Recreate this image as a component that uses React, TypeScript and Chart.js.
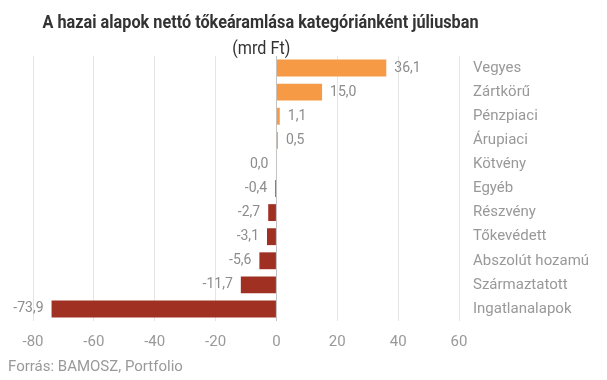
import React, { useEffect, useRef } from 'react';
import { Chart, registerables } from 'chart.js';

Chart.register(...registerables);

const categories = [
  'Vegyes',
  'Zártkörű',
  'Pénzpiaci',
  'Árupiaci',
  'Kötvény',
  'Egyéb',
  'Részvény',
  'Tőkevédett',
  'Abszolút hozamú',
  'Származtatott',
  'Ingatlanalapok',
];
const values = [36.1, 15.0, 1.1, 0.5, 0.0, -0.4, -2.7, -3.1, -5.6, -11.7, -73.9];
const xTicks = [-80, -60, -40, -20, 0, 20, 40, 60];
const titleText = 'A hazai alapok nettó tőkeáramlása kategóriánként júliusban';
const subtitleText = '(mrd Ft)';
const sourceText = 'Forrás: BAMOSZ, Portfolio';
const positiveColor = '#F79A45';
const negativeColor = '#A03022';

const fmt = (v: number) => v.toFixed(1).replace('.', ',');

const valueLabels = {
  id: 'valueLabels',
  afterDatasetsDraw(chart: any) {
    const ctx = chart.ctx;
    const meta = chart.getDatasetMeta(0);
    ctx.save();
    ctx.font = '14px Roboto';
    ctx.fillStyle = '#8c8c8c';
    ctx.textBaseline = 'middle';
    meta.data.forEach((bar: any, i: number) => {
      const v = values[i];
      const text = fmt(v);
      if (v > 0) {
        ctx.textAlign = 'left';
        ctx.fillText(text, bar.x + 8, bar.y);
      } else {
        ctx.textAlign = 'right';
        ctx.fillText(text, bar.x - 8, bar.y);
      }
    });
    ctx.restore();
  },
};

export default function App() {
  const canvasRef = useRef<HTMLCanvasElement | null>(null);
  const titleRef = useRef<HTMLSpanElement | null>(null);
  const subRef = useRef<HTMLSpanElement | null>(null);

  useEffect(() => {
    const fit = (el: HTMLSpanElement | null, target: number) => {
      if (!el) return;
      el.style.transform = 'none';
      const w = el.getBoundingClientRect().width;
      if (w > 0) el.style.transform = `scaleX(${target / w})`;
    };
    fit(titleRef.current, 436);
    fit(subRef.current, 58);

    const canvas = canvasRef.current;
    if (!canvas) return;
    const chart = new Chart(canvas, {
      type: 'bar',
      data: {
        labels: categories,
        datasets: [
          {
            data: values,
            backgroundColor: values.map((v) => (v >= 0 ? positiveColor : negativeColor)),
            borderWidth: 0,
            barPercentage: 0.7,
            categoryPercentage: 1.0,
          },
        ],
      },
      options: {
        indexAxis: 'y',
        responsive: false,
        animation: false,
        layout: { padding: { left: 33, right: 0, top: 56, bottom: 29 } },
        plugins: {
          legend: { display: false },
          title: { display: false },
          tooltip: { enabled: false },
        },
        scales: {
          x: {
            min: -80,
            max: 60,
            afterBuildTicks: (s: any) => {
              s.ticks = xTicks.map((v) => ({ value: v }));
            },
            afterFit: (s: any) => {
              s.height = 30;
            },
            ticks: {
              color: '#999999',
              font: { family: 'Roboto', size: 15 },
              padding: 12,
              maxRotation: 0,
            },
            grid: {
              color: (c: any) => (c.tick && c.tick.value === 0 ? '#c4c4c4' : '#e4e4e4'),
              drawTicks: false,
              lineWidth: 1,
            },
            border: { display: false },
          },
          y: {
            position: 'right',
            grid: { display: false, drawTicks: false },
            border: { display: false },
            ticks: {
              color: '#999999',
              font: { family: 'Roboto', size: 15 },
              padding: 14,
            },
            afterFit: (s: any) => {
              s.width = 148;
            },
          },
        },
      } as any,
      plugins: [valueLabels],
    });
    return () => chart.destroy();
  }, []);

  return (
    <div style={{ position: 'absolute', left: 0, top: 0, width: 607, height: 380, background: '#fff', overflow: 'hidden' }}>
      <canvas
        ref={canvasRef}
        width={607}
        height={380}
        style={{ position: 'absolute', left: 0, top: 0, width: 607, height: 380, display: 'block' }}
      />
      <div
        style={{
          position: 'absolute',
          left: 0,
          top: 13,
          width: 521,
          textAlign: 'center',
          whiteSpace: 'nowrap',
          fontFamily: 'Roboto',
          fontWeight: 700,
          fontSize: 18,
          lineHeight: '18px',
          color: '#333333',
        }}
      >
        <span ref={titleRef} style={{ display: 'inline-block', transformOrigin: 'center' }}>
          {titleText}
        </span>
      </div>
      <div
        style={{
          position: 'absolute',
          left: 0,
          top: 39,
          width: 522,
          textAlign: 'center',
          whiteSpace: 'nowrap',
          fontFamily: 'Roboto',
          fontWeight: 400,
          fontSize: 18,
          lineHeight: '18px',
          color: '#333333',
        }}
      >
        <span ref={subRef} style={{ display: 'inline-block', transformOrigin: 'center' }}>
          {subtitleText}
        </span>
      </div>
      <div
        style={{
          position: 'absolute',
          left: 8,
          top: 359,
          whiteSpace: 'nowrap',
          fontFamily: 'Roboto',
          fontSize: 15,
          lineHeight: '15px',
          color: '#999999',
        }}
      >
        {sourceText}
      </div>
    </div>
  );
}
